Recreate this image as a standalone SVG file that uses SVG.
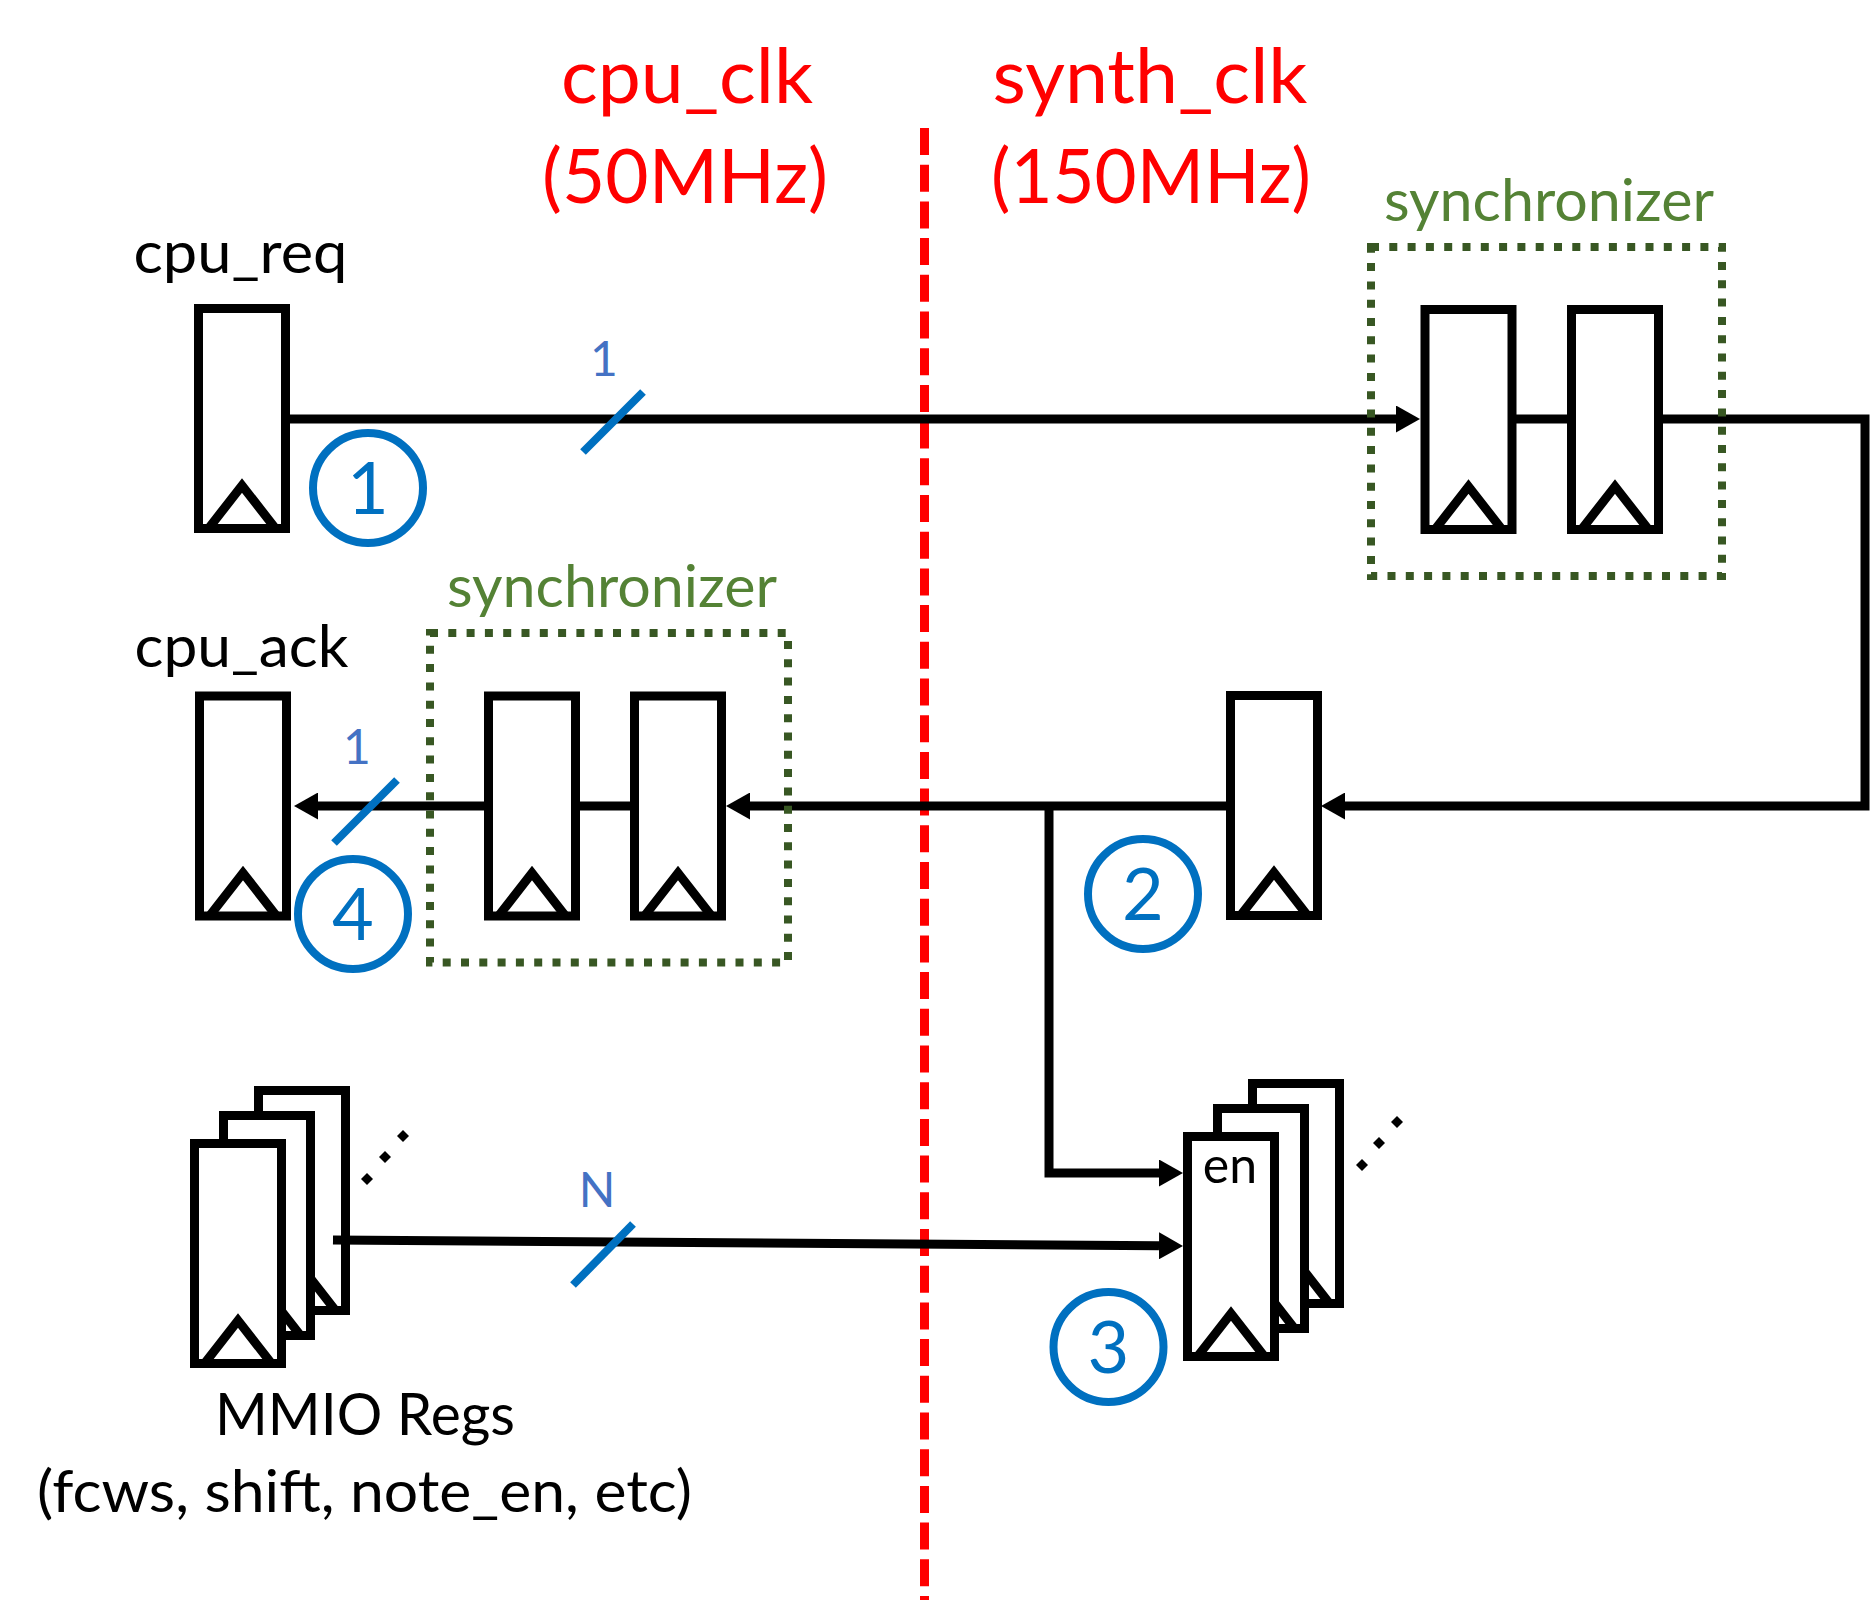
<svg xmlns="http://www.w3.org/2000/svg" width="1874" height="1608" viewBox="0 0 1874 1608">
<style>
  .ffr { fill: #ffffff; stroke: #000000; stroke-width: 9; }
  .ffc { fill: none; stroke: #000000; stroke-width: 9; stroke-linejoin: miter; stroke-miterlimit: 10; }
  .wire { fill: none; stroke: #000000; stroke-width: 9; stroke-linejoin: miter; }
  .arrow { marker-end: url(#arr); }
  .slash { stroke: #0070C0; stroke-width: 8; }
  .bw { font-family: Lato, "Open Sans", sans-serif; font-size: 48px; fill: #4472C4; text-anchor: middle; }
  .num { fill: none; stroke: #0070C0; stroke-width: 8; }
  .numt { font-family: Lato, "Open Sans", sans-serif; font-size: 72px; fill: #0070C0; text-anchor: middle; }
  .lbl { font-family: Lato, "Open Sans", sans-serif; font-size: 58px; fill: #000000; text-anchor: middle; }
  .sync { fill: none; stroke: #385723; stroke-width: 8; stroke-dasharray: 8 10.3; }
  .synct { font-family: Lato, "Open Sans", sans-serif; font-size: 58px; fill: #548235; text-anchor: middle; }
  .clk { font-family: Lato, "Open Sans", sans-serif; font-size: 75px; fill: #FF0000; text-anchor: middle; }
  .divider { stroke: #FF0000; stroke-width: 9; stroke-dasharray: 27 9.7; }
  .dot { fill: #000000; }
</style>
<defs>
  <g id="ff">
    <rect class="ffr" x="0" y="0" width="87" height="220"/>
    <polyline class="ffc" points="10,220 43.5,177 77,220"/>
  </g>
  <marker id="arr" markerUnits="userSpaceOnUse" viewBox="0 0 24 27" markerWidth="24" markerHeight="27" refX="0" refY="13.5" orient="auto">
    <path d="M0,0 L24,13.5 L0,27 z" fill="#000000"/>
  </marker>
</defs>
<rect x="0" y="0" width="1874" height="1608" fill="#ffffff"/>

<g id="clock-domains">
  <line class="divider" x1="924.5" y1="128" x2="924.5" y2="1600"/>
  <text class="clk" x="687" y="103" textLength="252" lengthAdjust="spacingAndGlyphs">cpu_clk</text>
  <text class="clk" x="685" y="203" textLength="286" lengthAdjust="spacingAndGlyphs">(50MHz)</text>
  <text class="clk" x="1150" y="103" textLength="315" lengthAdjust="spacingAndGlyphs">synth_clk</text>
  <text class="clk" x="1151" y="203" textLength="320" lengthAdjust="spacingAndGlyphs">(150MHz)</text>
</g>

<g id="mmio_regs">
  <use href="#ff" x="258.5" y="1090.5"/>
  <use href="#ff" x="223.5" y="1115.5"/>
  <use href="#ff" x="194.5" y="1143.5"/>
  <rect class="dot" x="-4.25" y="-4.25" width="8.5" height="8.5" transform="translate(367,1179) rotate(45)"/>
  <rect class="dot" x="-4.25" y="-4.25" width="8.5" height="8.5" transform="translate(385,1157) rotate(45)"/>
  <rect class="dot" x="-4.25" y="-4.25" width="8.5" height="8.5" transform="translate(403,1136) rotate(45)"/>
  <text class="lbl" x="365" y="1435" textLength="300" lengthAdjust="spacingAndGlyphs">MMIO Regs</text>
  <text class="lbl" x="364.5" y="1512" textLength="655" lengthAdjust="spacingAndGlyphs">(fcws, shift, note_en, etc)</text>
</g>

<g id="connectors">
  <path class="wire arrow" d="M286,419 H1396"/>
  <path class="wire" d="M1511,419 H1571.5"/>
  <path class="wire arrow" d="M1657.5,419 H1865 V806 H1345"/>
  <path class="wire arrow" d="M1230.5,806 H750"/>
  <path class="wire" d="M634.5,806 H573.5"/>
  <path class="wire arrow" d="M488.5,806 H318"/>
  <path class="wire arrow" d="M1049,806 V1173 H1159"/>
  <path class="wire arrow" d="M333,1240 L1159,1245.8"/>
  <line class="slash" x1="583" y1="452" x2="643" y2="392"/>
  <line class="slash" x1="334" y1="843" x2="397" y2="780"/>
  <line class="slash" x1="573" y1="1285" x2="633" y2="1224"/>
  <text class="bw" x="604" y="376">1</text>
  <text class="bw" x="357" y="764">1</text>
  <text class="bw" x="597" y="1207">N</text>
</g>

<g id="cpu_req">
  <use href="#ff" x="198.5" y="308.5"/>
  <text class="lbl" x="240.5" y="273" textLength="214" lengthAdjust="spacingAndGlyphs">cpu_req</text>
</g>

<g id="sync_top">
  <use href="#ff" x="1425" y="309.5"/>
  <use href="#ff" x="1571.5" y="309.5"/>
  <rect class="sync" x="1371" y="247" width="351" height="329"/>
  <text class="synct" x="1549" y="221" textLength="330" lengthAdjust="spacingAndGlyphs">synchronizer</text>
</g>

<g id="cpu_ack">
  <use href="#ff" x="199.5" y="696"/>
  <text class="lbl" x="241.5" y="667" textLength="214" lengthAdjust="spacingAndGlyphs">cpu_ack</text>
</g>

<g id="sync_bottom">
  <use href="#ff" x="488.5" y="696"/>
  <use href="#ff" x="634.5" y="696"/>
  <rect class="sync" x="430" y="633" width="358" height="329.5"/>
  <text class="synct" x="612" y="607" textLength="330" lengthAdjust="spacingAndGlyphs">synchronizer</text>
</g>

<g id="ack_reg">
  <use href="#ff" x="1230.5" y="695.5"/>
</g>

<g id="synth_regs">
  <use href="#ff" x="1252.5" y="1083.5"/>
  <use href="#ff" x="1217.5" y="1108.5"/>
  <use href="#ff" x="1187.5" y="1136.5"/>
  <text class="lbl" x="1230" y="1183" style="font-size:50px">en</text>
  <rect class="dot" x="-4.25" y="-4.25" width="8.5" height="8.5" transform="translate(1362,1165) rotate(45)"/>
  <rect class="dot" x="-4.25" y="-4.25" width="8.5" height="8.5" transform="translate(1379,1143) rotate(45)"/>
  <rect class="dot" x="-4.25" y="-4.25" width="8.5" height="8.5" transform="translate(1397,1122) rotate(45)"/>
</g>

<g id="step1">
  <circle class="num" cx="368" cy="488" r="55"/>
  <text class="numt" x="368" y="514">1</text>
</g>
<g id="step2">
  <circle class="num" cx="1143" cy="894" r="55"/>
  <text class="numt" x="1143" y="920">2</text>
</g>
<g id="step3">
  <circle class="num" cx="1108.5" cy="1347" r="55"/>
  <text class="numt" x="1108.5" y="1373">3</text>
</g>
<g id="step4">
  <circle class="num" cx="353" cy="914" r="55"/>
  <text class="numt" x="353" y="940">4</text>
</g>
</svg>
